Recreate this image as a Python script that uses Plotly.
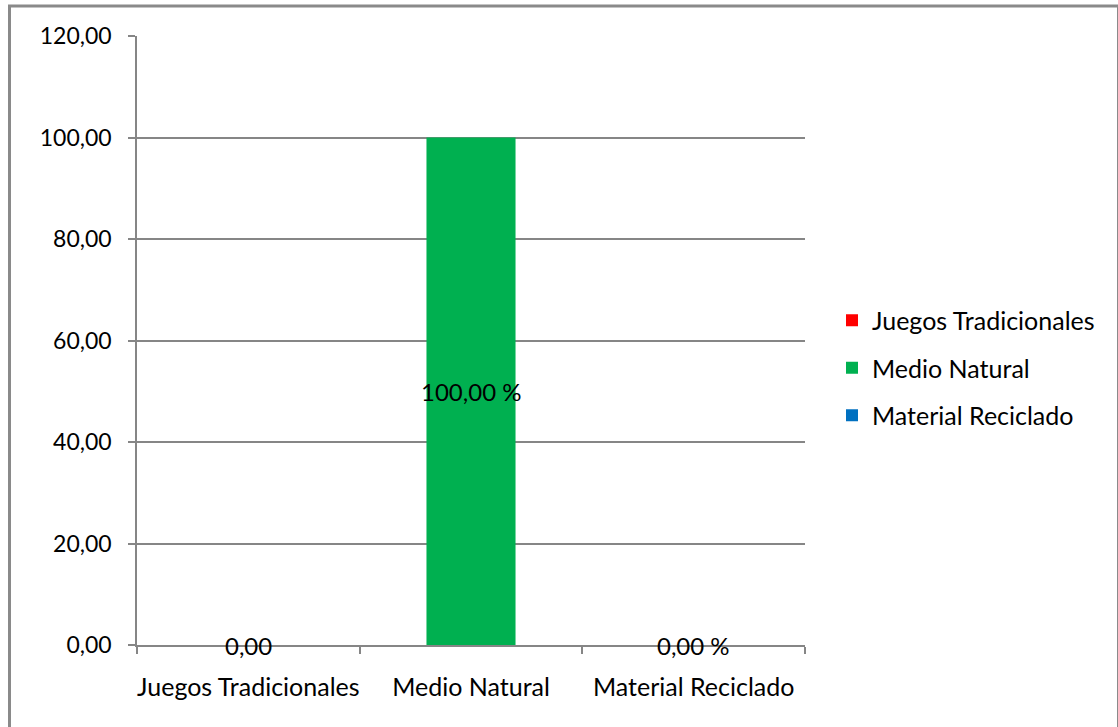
import plotly.graph_objects as go

# Chart data
categories = ["Juegos Tradicionales", "Medio Natural", "Material Reciclado"]
values = [0.0, 100.0, 0.0]
value_labels = ["0,00", "100,00 %", "0,00 %"]
colors = ["#ff0000", "#00b050", "#0070c0"]
y_ticks = [0, 20, 40, 60, 80, 100, 120]

W, H = 1118, 727
L, R, T, B = 137, 313, 36, 82
FONT = "Lato"
FS = 25
GRID = "#868686"


def px_x(px):
    return (px - L) / (W - L - R)


def px_y(py):
    return (H - B - py) / (H - T - B)


fig = go.Figure()
for cat, val, col in zip(categories, values, colors):
    fig.add_trace(go.Bar(
        x=[cat], y=[val], name=cat, width=0.4,
        marker=dict(color=col, line=dict(width=0)),
        legendgroup=cat, hoverinfo="x+y",
    ))

# Data labels centred on each bar
for cat, val, lab in zip(categories, values, value_labels):
    fig.add_annotation(
        x=cat, y=val / 2, xref="x", yref="y", text=lab, showarrow=False,
        xanchor="center", yanchor="middle",
        font=dict(family=FONT, size=24, color="#000000"),
    )

# Outer chart frame
fig.add_shape(
    type="rect", xref="paper", yref="paper",
    x0=px_x(9.5), x1=px_x(1118.5), y0=px_y(745), y1=px_y(6),
    line=dict(color="#8a8a8a", width=3), fillcolor="rgba(0,0,0,0)", layer="below",
)

fig.update_layout(
    width=W, height=H,
    margin=dict(l=L, r=R, t=T, b=B, pad=0, autoexpand=False),
    paper_bgcolor="#ffffff", plot_bgcolor="#ffffff",
    barmode="overlay",
    separators=",.",
    font=dict(family=FONT, size=FS, color="#000000"),
    showlegend=True,
    legend=dict(
        x=px_x(832), y=px_y(368), xanchor="left", yanchor="middle",
        font=dict(family=FONT, size=FS, color="#000000"),
        traceorder="grouped", tracegroupgap=12,
        bgcolor="rgba(0,0,0,0)", itemwidth=30,
    ),
    xaxis=dict(
        type="category", categoryorder="array", categoryarray=categories,
        range=[-0.5, 2.5], showline=True, linecolor=GRID, linewidth=1.5,
        ticks="outside", ticklen=7, tickcolor=GRID, tickwidth=1.5,
        tickson="boundaries", showgrid=False, zeroline=False,
        tickangle=0, automargin=False,
        ticklabelstandoff=19,
        tickfont=dict(family=FONT, size=FS, color="#000000"),
    ),
    yaxis=dict(
        range=[0, 120], tickvals=y_ticks, tickformat=".2f",
        showgrid=True, gridcolor=GRID, gridwidth=1.5,
        showline=True, linecolor=GRID, linewidth=1.5,
        ticks="outside", ticklen=7, tickcolor=GRID, tickwidth=1.5,
        zeroline=False, ticklabelstandoff=12, automargin=False,
        tickfont=dict(family=FONT, size=23, color="#000000"),
    ),
)

fig.write_html("out.html")
